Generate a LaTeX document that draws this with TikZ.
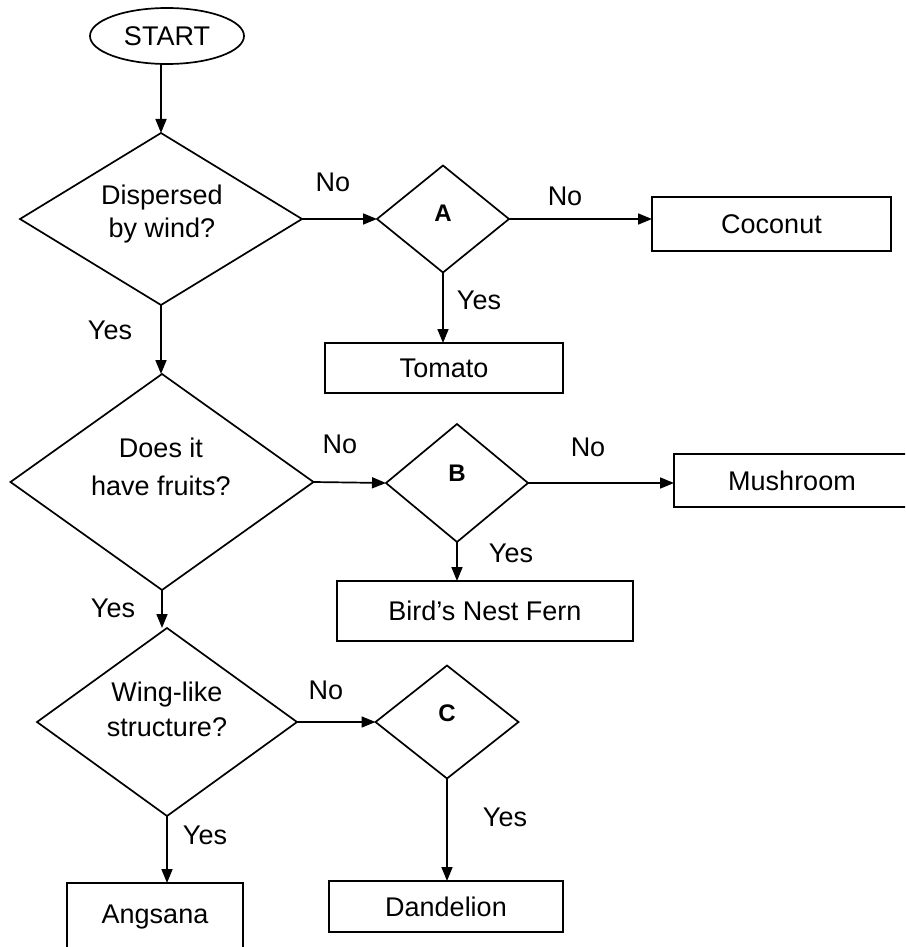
\documentclass[tikz,border=0pt]{standalone}
\usepackage{fontspec}
\setmainfont{Liberation Sans}
\usetikzlibrary{shapes.geometric,arrows.meta}
\begin{document}
\begin{tikzpicture}[x=1pt,y=-1pt,
  every node/.style={inner sep=0pt, outer sep=0pt},
  txt/.style={font=\fontsize{27}{33}\selectfont},
  ln/.style={line width=1.7pt},
  stepbox/.style={draw, ln, rectangle, txt},
  dia/.style={draw, ln, diamond, inner sep=0pt},
  letter/.style={font=\bfseries\fontsize{24}{28}\selectfont},
  arr/.style={ln, -{Triangle[length=14pt,width=11pt]}},
  lbl/.style={txt}
]
\useasboundingbox (0,0) rectangle (905,947);
\clip (0,0) rectangle (905,947);

% start
\node[draw, ln, ellipse, txt, minimum width=154pt, minimum height=56pt] (start) at (167,36) {START};

% main diamonds
\node[dia, minimum width=282pt, minimum height=172pt] (d1) at (161,219) {};
\node[txt, align=center] (d1t) at (162,214.5) {Dispersed\\by wind?};
\node[dia, minimum width=303pt, minimum height=216pt] (d2) at (162,482) {};
\node[txt, align=center, font=\fontsize{27}{38}\selectfont] (d2t) at (161,467) {Does it\\have fruits?};
\node[dia, minimum width=260pt, minimum height=188pt] (d3) at (167,722) {};
\node[txt, align=center, font=\fontsize{27}{35}\selectfont] (d3t) at (167,709) {Wing-like\\structure?};

% side diamonds
\node[dia, letter, minimum width=132pt, minimum height=107pt, text depth=12pt] (A) at (443,219) {A};
\node[dia, letter, minimum width=142pt, minimum height=118pt, text depth=20pt] (B) at (457,483) {B};
\node[dia, letter, minimum width=143pt, minimum height=113pt, text depth=18pt] (C) at (447,722) {C};

% result boxes
\node[stepbox, minimum width=239pt, minimum height=54pt] (coconut) at (771.5,224) {Coconut};
\node[stepbox, minimum width=238pt, minimum height=50pt] (tomato) at (444,368) {Tomato};
\node[stepbox, minimum width=236pt, minimum height=53pt] (mushroom) at (792,480.5) {Mushroom};
\node[stepbox, minimum width=296pt, minimum height=60pt] (fern) at (485,611) {Bird’s Nest Fern};
\node[stepbox, minimum width=176pt, minimum height=68pt] (angsana) at (155,917) {Angsana};
\node[stepbox, minimum width=234pt, minimum height=51pt] (dandelion) at (446,906.5) {Dandelion};

% connectors
\draw[arr] (start.south -| d1.north) -- (d1.north);
\draw[arr] (d1.east) -- (A.west);
\draw[arr] (A.east) -- (A.east -| coconut.west);
\draw[arr] (A.south) -- (A.south |- tomato.north);
\draw[arr] (d1.south) -- (d1.south |- d2.north);
\draw[arr] (d2.east) -- (B.west);
\draw[arr] (B.east) -- (B.east -| mushroom.west);
\draw[arr] (B.south) -- (B.south |- fern.north);
\draw[arr] (d2.south) -- (d2.south |- d3.north);
\draw[arr] (d3.east) -- (C.west);
\draw[arr] (C.south) -- (C.south |- dandelion.north);
\draw[arr] (d3.south) -- (d3.south |- angsana.north);

% labels
\node[lbl] (no1) at (333,182) {No};
\node[lbl] (no2) at (565,196) {No};
\node[lbl] (yesA) at (479,300) {Yes};
\node[lbl] (yes1) at (110,330) {Yes};
\node[lbl] (no3) at (340,444) {No};
\node[lbl] (no4) at (588,447) {No};
\node[lbl] (yesB) at (511,553) {Yes};
\node[lbl] (yes2) at (113,608) {Yes};
\node[lbl] (no5) at (326,690) {No};
\node[lbl] (yesC) at (505,817) {Yes};
\node[lbl] (yes3) at (205,835) {Yes};
\end{tikzpicture}
\end{document}
